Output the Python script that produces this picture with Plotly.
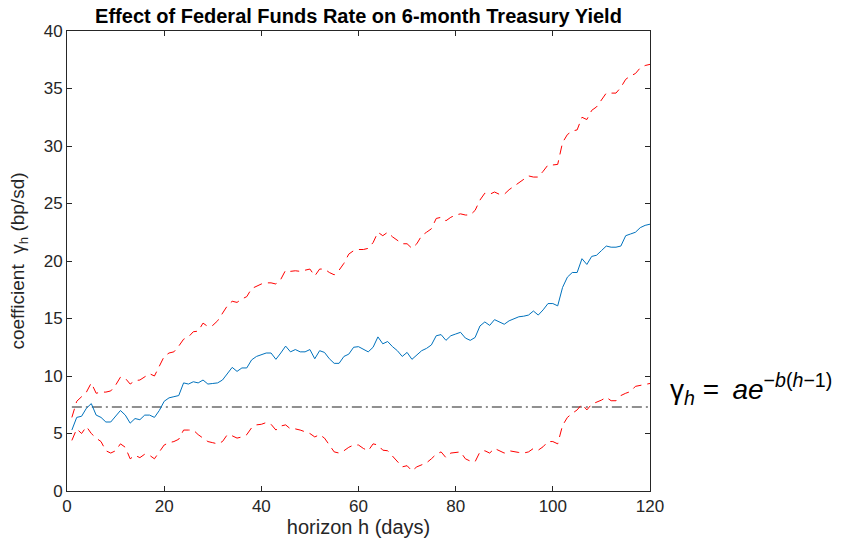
import plotly.graph_objects as go

horizon = list(range(1, 121))

coef = [5.3, 6.4, 6.5, 7.2, 7.6, 6.6, 6.4, 6.0, 6.0, 6.5,
        7.0, 6.6, 5.9, 6.3, 6.2, 6.6, 6.6, 6.4, 7.0, 7.8,
        8.1, 8.2, 8.3, 9.4, 9.3, 9.5, 9.4, 9.65, 9.3, 9.35,
        9.4, 9.65, 10.2, 10.75, 10.4, 10.7, 10.7, 11.4, 11.7, 11.85,
        12.0, 12.0, 11.45, 12.0, 12.6, 12.1, 12.3, 12.1, 12.1, 12.3,
        11.5, 12.2, 12.05, 11.5, 11.1, 11.1, 11.7, 11.9, 12.5, 12.55,
        12.3, 12.1, 12.5, 13.4, 12.8, 13.0, 12.55, 12.2, 11.7, 12.05,
        11.45, 11.8, 12.2, 12.4, 12.7, 13.5, 13.6, 13.1, 13.5, 13.65,
        13.8, 13.3, 13.1, 13.35, 14.35, 14.7, 14.4, 14.9, 14.7, 14.5,
        14.8, 15.0, 15.15, 15.2, 15.3, 15.65, 15.3, 15.75, 16.3, 16.3,
        16.1, 17.7, 18.6, 19.0, 19.0, 20.2, 19.7, 20.4, 20.5, 20.9,
        21.3, 21.2, 21.2, 21.3, 22.2, 22.35, 22.5, 22.9, 23.1, 23.2]

upper = [6.4, 7.8, 8.2, 8.6, 9.4, 8.5, 8.6, 8.6, 8.7, 9.2,
         9.9, 9.8, 9.3, 9.6, 9.65, 9.9, 10.2, 10.0, 10.9, 11.7,
         12.0, 12.1, 12.6, 13.2, 13.4, 13.85, 13.9, 14.6, 14.3, 14.4,
         14.8, 15.4, 16.1, 16.5, 16.4, 16.7, 16.9, 17.6, 17.8, 18.0,
         18.1, 18.1, 18.0, 18.4, 19.2, 19.1, 19.15, 19.1, 19.2, 19.3,
         18.7, 19.3, 19.3, 19.0, 18.8, 19.2, 19.8, 20.6, 20.9, 21.0,
         21.0, 21.1, 21.6, 22.5, 22.2, 22.5, 22.1, 21.8, 21.5, 21.5,
         21.1, 21.5, 22.2, 22.5, 22.8, 23.7, 23.8, 23.5, 23.8, 24.0,
         24.1, 24.0, 24.0, 24.4, 25.3, 25.9, 25.8, 26.0, 25.8, 25.8,
         26.2, 26.5, 26.8, 27.1, 27.4, 27.3, 27.3, 27.8, 28.35, 28.35,
         28.4, 30.3, 31.0, 31.3, 31.4, 32.5, 32.3, 33.1, 33.4, 34.0,
         34.6, 34.6, 34.6, 35.1, 35.8, 36.1, 36.3, 36.8, 37.0, 37.1]

lower = [4.4, 5.4, 5.0, 5.6, 5.0, 4.6, 4.3, 3.5, 3.3, 3.5,
         4.1, 3.8, 2.8, 3.1, 2.9, 3.2, 3.1, 2.8, 3.4, 4.0,
         4.2, 4.3, 4.5, 5.3, 5.3, 5.3, 4.9, 4.6, 4.3, 4.2,
         4.1, 4.3, 4.9, 4.8, 4.6, 4.7, 4.9, 5.5, 5.75, 5.8,
         5.95, 5.8, 5.3, 5.65, 5.75, 5.4, 5.4, 5.3, 5.15, 5.0,
         4.7, 4.9, 4.6, 4.0, 3.4, 3.3, 3.5, 3.8, 4.0, 4.0,
         3.7, 3.5, 4.1, 4.0, 3.55, 3.5, 3.0, 2.6, 2.1, 2.2,
         1.75, 2.1, 2.3, 2.45, 2.8, 3.2, 3.4, 2.9, 3.3, 3.35,
         3.4, 2.8, 2.6, 2.55, 3.4, 3.5, 3.3, 3.7, 3.5, 3.3,
         3.5, 3.4, 3.35, 3.3, 3.4, 3.7, 3.55, 3.85, 4.3, 4.3,
         4.1, 5.7, 6.4, 6.75, 7.05, 7.55, 7.05, 7.55, 7.7, 7.9,
         8.15, 7.85, 7.85, 8.3, 8.5, 8.65, 9.1, 9.2, 9.3, 9.35]

fit_level = [7.3] * len(horizon)

x_ticks = [0, 20, 40, 60, 80, 100, 120]
y_ticks = [0, 5, 10, 15, 20, 25, 30, 35, 40]

FONT = "Liberation Sans, Arial, sans-serif"
AX = "#262626"
NB = "\u00a0"

fig = go.Figure()
fig.add_trace(go.Scatter(x=horizon, y=fit_level, mode="lines",
                         line=dict(color="#222222", width=1.1, dash="10px,4px,2px,4px"),
                         hoverinfo="skip"))
fig.add_trace(go.Scatter(x=horizon, y=upper, mode="lines",
                         line=dict(color="#ff0000", width=1, dash="9px,6px")))
fig.add_trace(go.Scatter(x=horizon, y=lower, mode="lines",
                         line=dict(color="#ff0000", width=1, dash="9px,6px")))
fig.add_trace(go.Scatter(x=horizon, y=coef, mode="lines",
                         line=dict(color="#0072BD", width=1)))

axis_common = dict(showgrid=False, zeroline=False, showline=True, linecolor=AX,
                   linewidth=1, mirror="allticks", ticks="inside", ticklen=5,
                   tickcolor=AX, tickfont=dict(family=FONT, size=17, color=AX))

fig.update_layout(
    width=843, height=548,
    margin=dict(l=67, r=193, t=31, b=57),
    paper_bgcolor="white", plot_bgcolor="white",
    showlegend=False,
    title=dict(text="<b>Effect of Federal Funds Rate on 6-month Treasury Yield</b>",
               x=358.5 / 843, xanchor="center", y=1 - 16 / 548, yanchor="middle",
               font=dict(family=FONT, size=20, color="black")),
    xaxis=dict(range=[0, 120], tickvals=x_ticks,
               title=dict(text="horizon h (days)", font=dict(family=FONT, size=20, color=AX),
                          standoff=4),
               **axis_common),
    yaxis=dict(range=[0, 40], tickvals=y_ticks,
               title=dict(text="coefficient" + NB + NB + "γ<sub>h</sub> (bp/sd)",
                          font=dict(family=FONT, size=19, color=AX), standoff=14),
               **axis_common),
    annotations=[dict(
        text="γ<sub><i>h</i></sub>" + NB + "=" + NB + "\u2009" + "<i>ae</i><sup>−<i>b</i>(<i>h</i>−1)</sup>",
        xref="paper", yref="paper", x=(668 - 67) / 583, y=(491 - 389) / 460,
        xanchor="left", yanchor="middle", showarrow=False,
        font=dict(family=FONT, size=28, color="black"))],
)

fig.write_html("out.html")
